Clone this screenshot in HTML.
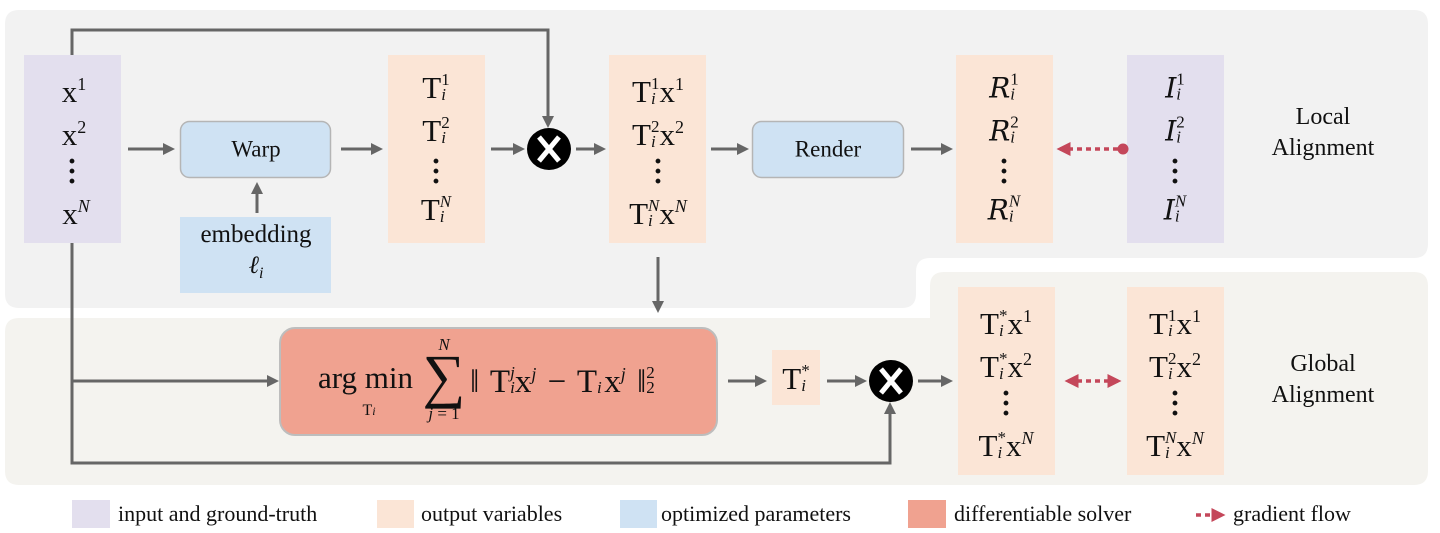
<!DOCTYPE html>
<html><head><meta charset="utf-8"><style>
body{margin:0;width:1440px;height:533px;background:#fff;position:relative;overflow:hidden;font-family:"Liberation Serif",serif;color:#111}
.t{position:absolute;transform:translate(-50%,-50%);white-space:nowrap;font-size:31px;line-height:32px}
.tl{position:absolute;transform:translateY(-50%);white-space:nowrap;font-size:31px;line-height:32px}
.s{display:inline-block;vertical-align:middle;font-size:17px;line-height:15px;text-align:left;margin-top:-8px}
.s b{display:block;font-weight:normal}
.s b.lo{font-style:italic}
.sup{font-size:18px;vertical-align:12px}
.supi{font-size:18px;vertical-align:12px;font-style:italic}
.lbl{position:absolute;transform:translate(-50%,-50%);font-size:24px;text-align:center;line-height:31px}
.leg{position:absolute;top:501px;font-size:22px;line-height:26px}
.dots{font-size:30px;line-height:10px;text-align:center;font-weight:bold}
.sc{font-family:"DejaVu Serif",serif;font-style:italic;font-size:28px}
</style></head><body>
<svg width="1440" height="533" style="position:absolute;left:0;top:0">
<defs>
<marker id="a" markerWidth="4" markerHeight="4" refX="3" refY="2" orient="auto" markerUnits="strokeWidth"><path d="M0,0L4,2L0,4z" fill="#666"/></marker>
<marker id="r" markerWidth="4" markerHeight="4" refX="3" refY="2" orient="auto" markerUnits="strokeWidth"><path d="M0,0L4,2L0,4z" fill="#c4475a"/></marker>
<marker id="rs" markerWidth="4" markerHeight="4" refX="1" refY="2" orient="auto" markerUnits="strokeWidth"><path d="M4,0L0,2L4,4z" fill="#c4475a"/></marker>
</defs>
<path d="M5,24 Q5,10 19,10 H1414 Q1428,10 1428,24 V244 Q1428,258 1414,258 H930 Q916,258 916,272 V294 Q916,308 902,308 H19 Q5,308 5,294Z" fill="#f2f2f2"/>
<path d="M944,272 H1414 Q1428,272 1428,286 V471 Q1428,485 1414,485 H19 Q5,485 5,471 V332 Q5,318 19,318 H930 V286 Q930,272 944,272Z" fill="#f4f3ef"/>
<rect x="24" y="55" width="97" height="188" fill="#e3dfee"/>
<rect x="1127" y="55" width="97" height="188" fill="#e3dfee"/>
<rect x="388" y="55" width="97" height="188" fill="#fbe5d6"/>
<rect x="609" y="55" width="97" height="188" fill="#fbe5d6"/>
<rect x="956" y="55" width="97" height="188" fill="#fbe5d6"/>
<rect x="958" y="287" width="97" height="188" fill="#fbe5d6"/>
<rect x="1127" y="287" width="97" height="188" fill="#fbe5d6"/>
<rect x="772" y="350" width="48" height="55" fill="#fbe5d6"/>
<rect x="180.5" y="121.5" width="150" height="56" rx="9" fill="#cfe2f3" stroke="#b5b5b5" stroke-width="1.5"/>
<rect x="752.5" y="121.5" width="151" height="56" rx="9" fill="#cfe2f3" stroke="#b5b5b5" stroke-width="1.5"/>
<rect x="180" y="217" width="151" height="76" fill="#cfe2f3"/>
<rect x="280" y="328" width="437" height="107" rx="15" fill="#f0a290" stroke="#bdbdbd" stroke-width="2"/>
<g stroke="#666" stroke-width="3" fill="none">
<path d="M72,55 V30 H548 V125" marker-end="url(#a)"/>
<path d="M72,243 V463 H890 V405" marker-end="url(#a)"/>
<path d="M72,381 H276" marker-end="url(#a)"/>
<path d="M128,149 H172" marker-end="url(#a)"/>
<path d="M341,149 H380" marker-end="url(#a)"/>
<path d="M491,149 H522" marker-end="url(#a)"/>
<path d="M576,149 H603" marker-end="url(#a)"/>
<path d="M711,149 H746" marker-end="url(#a)"/>
<path d="M911,149 H950" marker-end="url(#a)"/>
<path d="M257,213 H257 V185" marker-end="url(#a)"/>
<path d="M658,257 V310" marker-end="url(#a)"/>
<path d="M728,381 H764" marker-end="url(#a)"/>
<path d="M827,381 H864" marker-end="url(#a)"/>
<path d="M918,381 H950" marker-end="url(#a)"/>
</g>
<g stroke="#c4475a" stroke-width="3.5" fill="none" stroke-dasharray="5,4">
<path d="M1118,149 H1060" marker-end="url(#r)"/>
<path d="M1068,381 H1118" marker-end="url(#r)" marker-start="url(#rs)"/>
<path d="M1196,515 H1222" marker-end="url(#r)"/>
</g>
<circle cx="1123" cy="149" r="5.5" fill="#c4475a"/>
<g>
<ellipse cx="549" cy="149" rx="22" ry="21" fill="#000"/>
<path d="M539,137 L559,161 M559,137 L539,161" stroke="#fff" stroke-width="5"/>
<ellipse cx="891" cy="381" rx="22" ry="21" fill="#000"/>
<path d="M881,369 L901,393 M901,369 L881,393" stroke="#fff" stroke-width="5"/>
</g>
<rect x="72" y="500" width="38" height="28" fill="#e3dfee"/>
<rect x="377" y="500" width="37" height="28" fill="#fbe5d6"/>
<rect x="620" y="500" width="37" height="28" fill="#cfe2f3"/>
<rect x="908" y="500" width="38" height="28" fill="#f0a290"/>
</svg>

<!-- x column -->
<div class="t" style="left:74px;top:88px">x<span class="sup">1</span></div>
<div class="t" style="left:74px;top:131px">x<span class="sup">2</span></div>
<div class="t dots" style="left:72px;top:172px">·<br>·<br>·</div>
<div class="t" style="left:76px;top:210px">x<span class="supi">N</span></div>

<div class="lbl" style="left:256px;top:149px;font-size:23px">Warp</div>
<div class="lbl" style="left:256px;top:254px;font-size:25px">embedding<br><i>ℓ<span style="font-size:16px;vertical-align:-5px">i</span></i></div>
<div class="lbl" style="left:828px;top:149px;font-size:23px">Render</div>

<!-- T column -->
<div class="t" style="left:436px;top:88px">T<span class="s"><b>1</b><b class="lo">i</b></span></div>
<div class="t" style="left:436px;top:131px">T<span class="s"><b>2</b><b class="lo">i</b></span></div>
<div class="t dots" style="left:436px;top:172px">·<br>·<br>·</div>
<div class="t" style="left:436px;top:210px">T<span class="s"><b><i>N</i></b><b class="lo">i</b></span></div>

<!-- Tx column -->
<div class="t" style="left:658px;top:88px">T<span class="s"><b>1</b><b class="lo">i</b></span>x<span class="sup">1</span></div>
<div class="t" style="left:658px;top:131px">T<span class="s"><b>2</b><b class="lo">i</b></span>x<span class="sup">2</span></div>
<div class="t dots" style="left:658px;top:172px">·<br>·<br>·</div>
<div class="t" style="left:658px;top:210px">T<span class="s"><b><i>N</i></b><b class="lo">i</b></span>x<span class="supi">N</span></div>

<!-- R column -->
<div class="t" style="left:1004px;top:88px"><span class="sc">R</span><span class="s"><b>1</b><b class="lo">i</b></span></div>
<div class="t" style="left:1004px;top:131px"><span class="sc">R</span><span class="s"><b>2</b><b class="lo">i</b></span></div>
<div class="t dots" style="left:1004px;top:172px">·<br>·<br>·</div>
<div class="t" style="left:1004px;top:210px"><span class="sc">R</span><span class="s"><b><i>N</i></b><b class="lo">i</b></span></div>

<!-- I column -->
<div class="t" style="left:1175px;top:88px"><span class="sc">I</span><span class="s"><b>1</b><b class="lo">i</b></span></div>
<div class="t" style="left:1175px;top:131px"><span class="sc">I</span><span class="s"><b>2</b><b class="lo">i</b></span></div>
<div class="t dots" style="left:1175px;top:172px">·<br>·<br>·</div>
<div class="t" style="left:1175px;top:210px"><span class="sc">I</span><span class="s"><b><i>N</i></b><b class="lo">i</b></span></div>

<div class="lbl" style="left:1323px;top:133px">Local<br>Alignment</div>
<div class="lbl" style="left:1323px;top:380px">Global<br>Alignment</div>

<!-- argmin -->
<div class="tl" style="left:318px;top:378px">arg min</div>
<div class="t" style="left:369px;top:411px;font-size:16px">T<i style="font-size:12px">i</i></div>
<div class="t" style="left:444px;top:376px;font-size:60px;line-height:60px">∑</div>
<div class="t" style="left:444px;top:345px;font-size:17px"><i>N</i></div>
<div class="t" style="left:444px;top:414px;font-size:17px"><i>j</i> = 1</div>
<div class="tl" style="left:470px;top:378px;font-size:33px;word-spacing:3px">‖ T<span class="s"><b><i>j</i></b><b class="lo">i</b></span>x<span class="supi">j</span> − T<span class="s"><b>&nbsp;</b><b class="lo">i</b></span>x<span class="supi">j</span> ‖<span class="s"><b>2</b><b>2</b></span></div>

<div class="t" style="left:796px;top:379px">T<span class="s"><b>*</b><b class="lo">i</b></span></div>

<!-- T* x column -->
<div class="t" style="left:1006px;top:320px">T<span class="s"><b>*</b><b class="lo">i</b></span>x<span class="sup">1</span></div>
<div class="t" style="left:1006px;top:363px">T<span class="s"><b>*</b><b class="lo">i</b></span>x<span class="sup">2</span></div>
<div class="t dots" style="left:1006px;top:404px">·<br>·<br>·</div>
<div class="t" style="left:1006px;top:442px">T<span class="s"><b>*</b><b class="lo">i</b></span>x<span class="supi">N</span></div>

<div class="t" style="left:1175px;top:320px">T<span class="s"><b>1</b><b class="lo">i</b></span>x<span class="sup">1</span></div>
<div class="t" style="left:1175px;top:363px">T<span class="s"><b>2</b><b class="lo">i</b></span>x<span class="sup">2</span></div>
<div class="t dots" style="left:1175px;top:404px">·<br>·<br>·</div>
<div class="t" style="left:1175px;top:442px">T<span class="s"><b><i>N</i></b><b class="lo">i</b></span>x<span class="supi">N</span></div>

<div class="leg" style="left:118px">input and ground-truth</div>
<div class="leg" style="left:421px">output variables</div>
<div class="leg" style="left:661px">optimized parameters</div>
<div class="leg" style="left:954px">differentiable solver</div>
<div class="leg" style="left:1233px">gradient flow</div>
</body></html>
